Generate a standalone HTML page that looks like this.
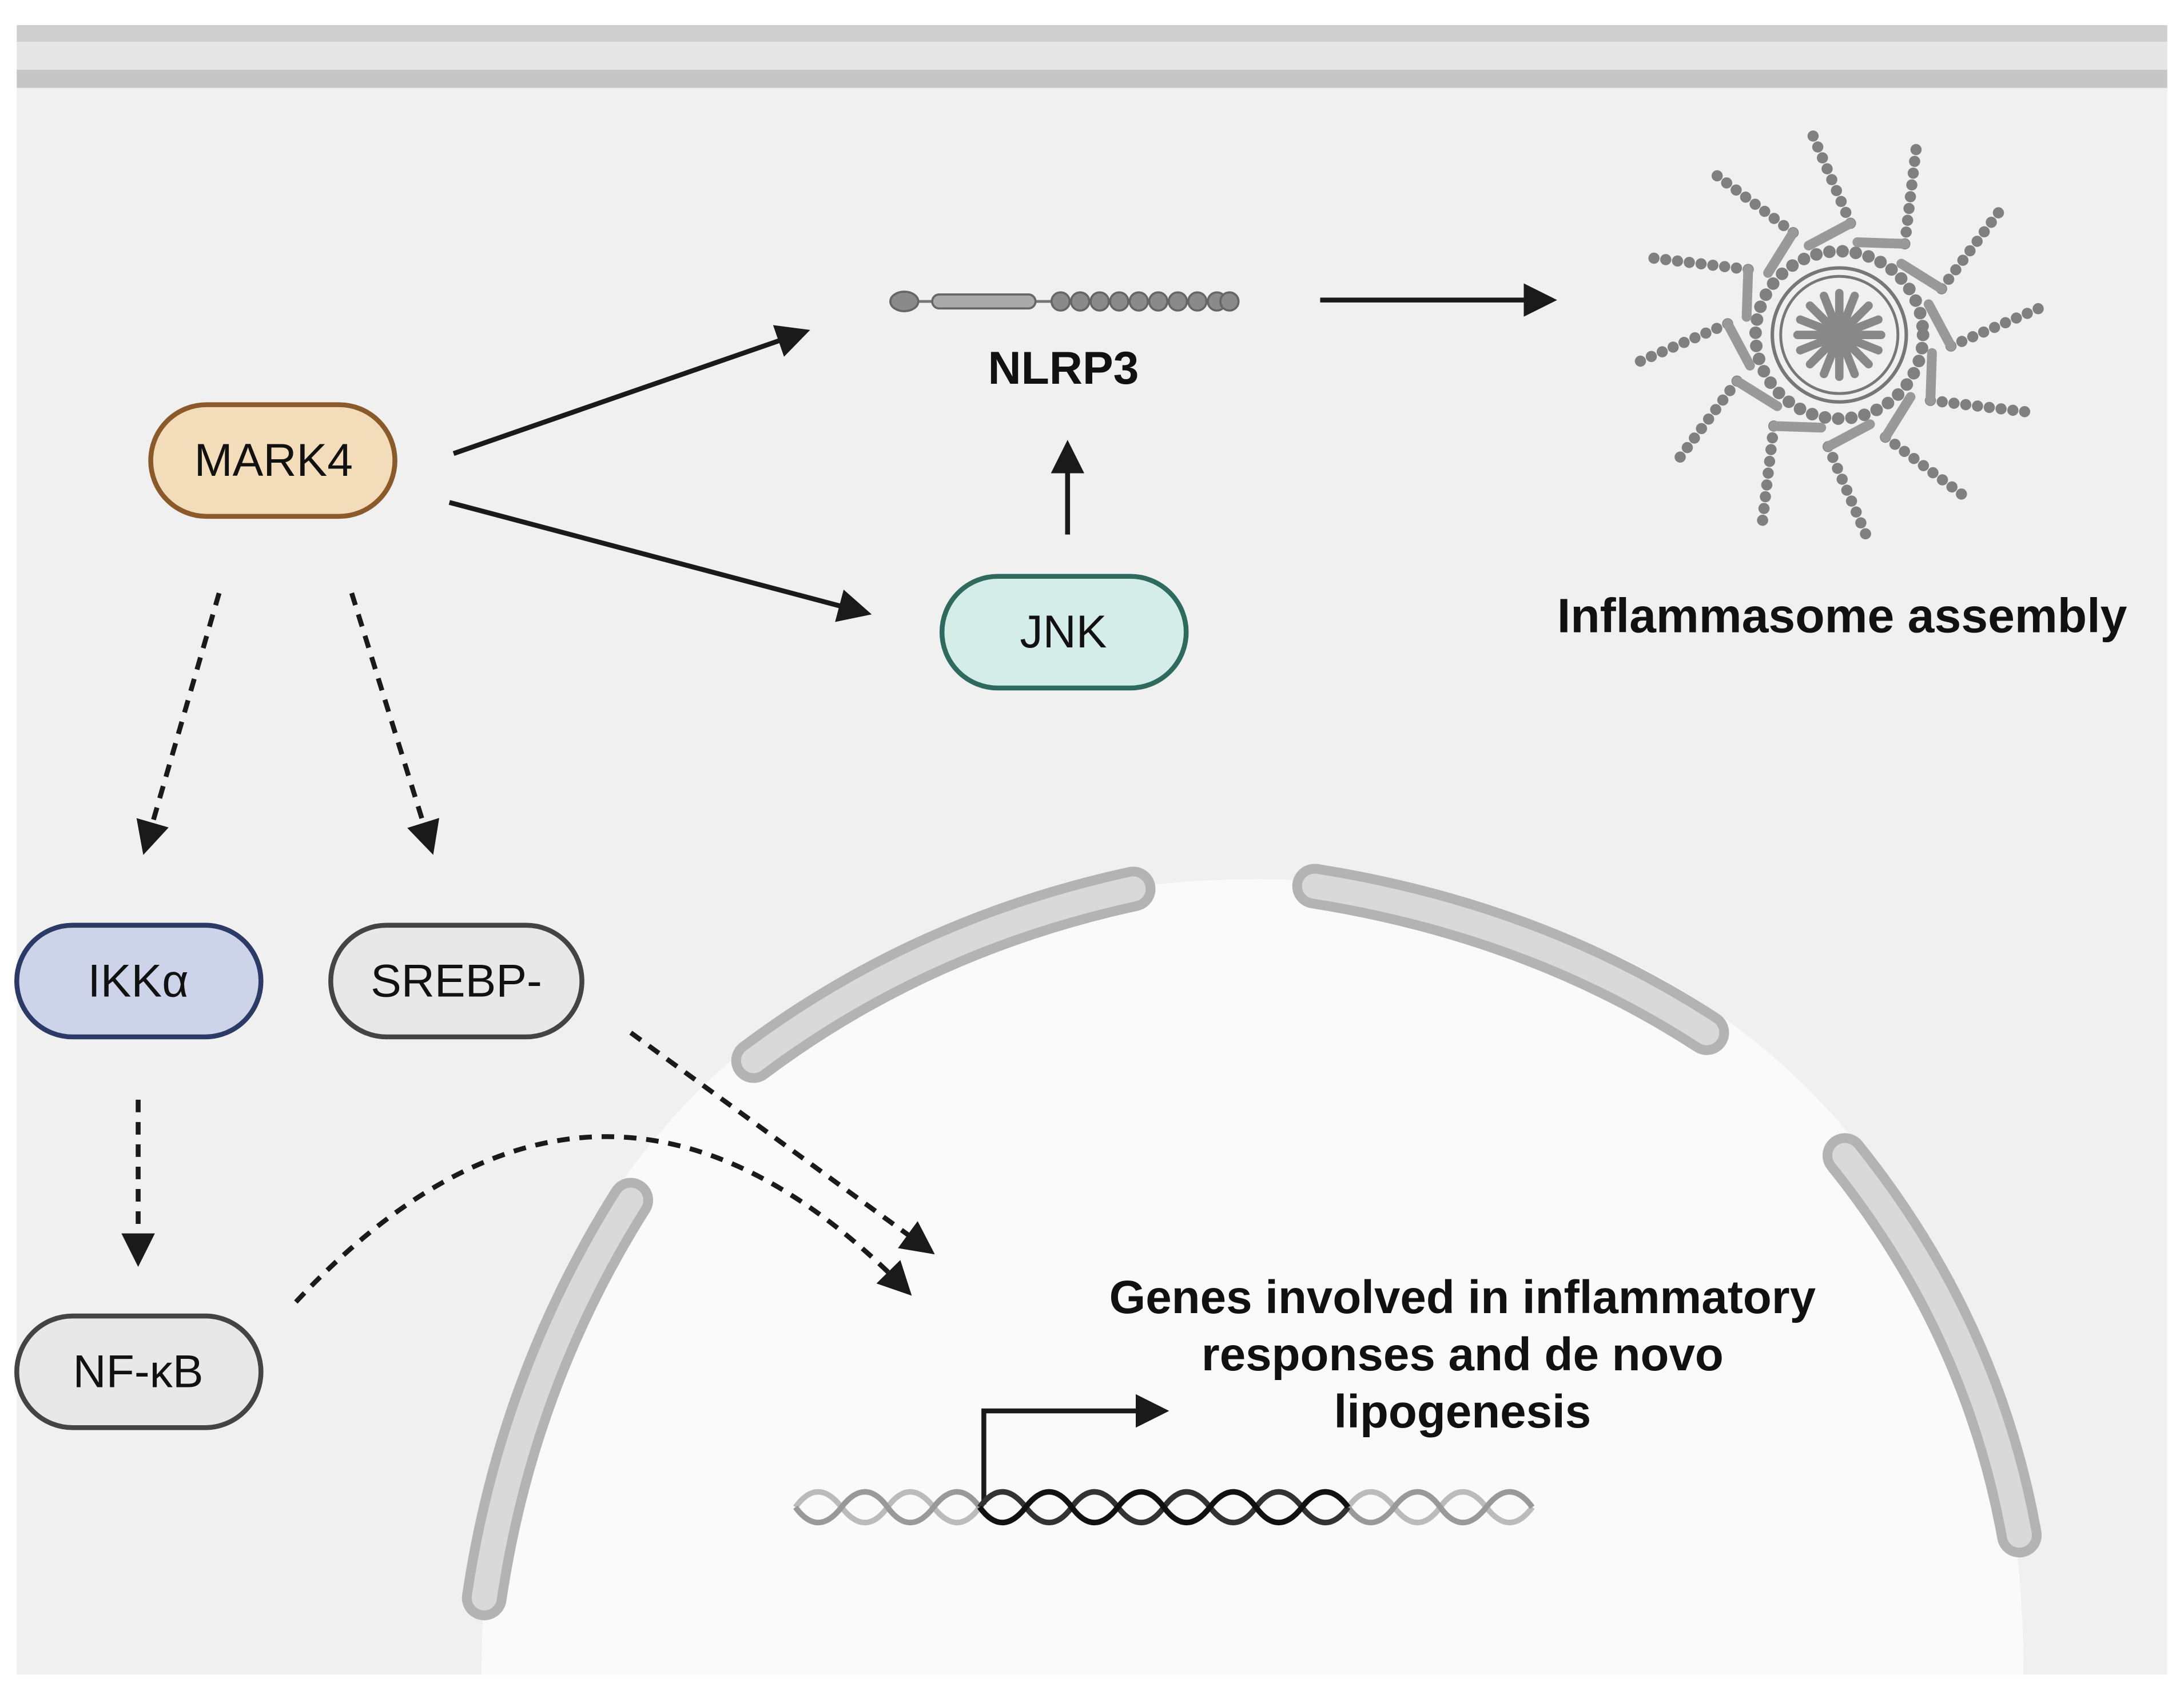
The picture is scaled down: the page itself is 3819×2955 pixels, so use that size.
<!DOCTYPE html>
<html><head><meta charset="utf-8"><style>
html,body{margin:0;padding:0;background:#fff}
svg{display:block}
text{font-family:"Liberation Sans",sans-serif;fill:#111}
</style></head><body>
<svg width="3819" height="2955" viewBox="0 0 1565 1211" preserveAspectRatio="none" xmlns="http://www.w3.org/2000/svg">
<defs>
<marker id="ahb" viewBox="0 0 10 10" refX="8" refY="5" markerWidth="24" markerHeight="24" orient="auto" markerUnits="userSpaceOnUse">
<path d="M0,0 L10,5 L0,10 Z" fill="#1a1a1a"/></marker>
</defs>
<rect x="0" y="0" width="1565" height="1211" fill="#fff"/>
<rect x="12" y="18" width="1541" height="1182" fill="#f0f0f0"/>
<rect x="12" y="18" width="1541" height="12" fill="#cfcfcf"/>
<rect x="12" y="30" width="1541" height="20" fill="#e6e6e6"/>
<rect x="12" y="50" width="1541" height="13" fill="#c6c6c6"/>
<path d="M345,1200 C345,820 600,630 900,630 C1200,630 1450,820 1450,1200 Z" fill="#fafafa"/>
<g fill="none" stroke-linecap="round">
<g stroke="#b3b3b3" stroke-width="32">
<path d="M540,760 Q660,670 812,637"/>
<path d="M942,635 Q1100,660 1223,740"/>
<path d="M1322,828 Q1420,950 1447,1100"/>
<path d="M452,860 Q370,990 347,1145"/>
</g>
<g stroke="#d9d9d9" stroke-width="18">
<path d="M540,760 Q660,670 812,637"/>
<path d="M942,635 Q1100,660 1223,740"/>
<path d="M1322,828 Q1420,950 1447,1100"/>
<path d="M452,860 Q370,990 347,1145"/>
</g>
</g>
<g stroke-width="3.5">
<rect x="108" y="290" width="175" height="80" rx="40" fill="#f3dcb9" stroke="#8b5a2b"/>
<rect x="675" y="413" width="175" height="80" rx="40" fill="#d4ede8" stroke="#2e6b5e"/>
<rect x="12" y="663" width="175" height="80" rx="40" fill="#cdd4ea" stroke="#2c3a66"/>
<rect x="237" y="663" width="180" height="80" rx="40" fill="#e8e8e8" stroke="#444"/>
<rect x="12" y="943" width="175" height="80" rx="40" fill="#e8e8e8" stroke="#444"/>
</g>
<g font-size="33" text-anchor="middle">
<text x="196" y="341">MARK4</text>
<text x="762" y="464">JNK</text>
<text x="99" y="714">IKKα</text>
<text x="327" y="714">SREBP-</text>
<text x="99" y="994">NF-κB</text>
</g>
<g stroke="#1a1a1a" stroke-width="3.5" fill="none" marker-end="url(#ahb)">
<line x1="325" y1="325" x2="576" y2="238"/>
<line x1="322" y1="360" x2="620" y2="439"/>
<line x1="765" y1="383" x2="765" y2="320"/>
<line x1="946" y1="215" x2="1111" y2="215"/>
<path d="M705,1078 V1011 H833"/>
</g>
<g stroke="#1a1a1a" stroke-width="3.5" fill="none" stroke-dasharray="9,7" marker-end="url(#ahb)">
<line x1="157" y1="425" x2="104" y2="608"/>
<line x1="252" y1="425" x2="309" y2="608"/>
<line x1="99" y1="788" x2="99" y2="903"/>
<line x1="452" y1="740" x2="666" y2="896"/>
<path d="M212,933 Q430,700 650,925"/>
</g>
<g fill="#8a8a8a" stroke="#666" stroke-width="1.5">
<line x1="648" y1="216" x2="880" y2="216" stroke="#777" stroke-width="2"/>
<ellipse cx="648" cy="216" rx="10" ry="7"/>
<rect x="668" y="211" width="74" height="10" rx="5" fill="#aaa"/>
<circle cx="760" cy="216" r="6.5"/><circle cx="774" cy="216" r="6.5"/><circle cx="788" cy="216" r="6.5"/><circle cx="802" cy="216" r="6.5"/><circle cx="816" cy="216" r="6.5"/><circle cx="830" cy="216" r="6.5"/><circle cx="844" cy="216" r="6.5"/><circle cx="858" cy="216" r="6.5"/><circle cx="872" cy="216" r="6.5"/><circle cx="881" cy="216" r="6.5"/>
</g>
<text x="762" y="275" font-size="33" font-weight="bold" text-anchor="middle">NLRP3</text>
<g transform="translate(1318,240)">
<g stroke="#808080" stroke-width="8" stroke-linecap="round" stroke-dasharray="0,8.5" fill="none">
<line x1="8" y1="-80" x2="-22" y2="-150" transform="rotate(0)"/>
<line x1="8" y1="-80" x2="-22" y2="-150" transform="rotate(30)"/>
<line x1="8" y1="-80" x2="-22" y2="-150" transform="rotate(60)"/>
<line x1="8" y1="-80" x2="-22" y2="-150" transform="rotate(90)"/>
<line x1="8" y1="-80" x2="-22" y2="-150" transform="rotate(120)"/>
<line x1="8" y1="-80" x2="-22" y2="-150" transform="rotate(150)"/>
<line x1="8" y1="-80" x2="-22" y2="-150" transform="rotate(180)"/>
<line x1="8" y1="-80" x2="-22" y2="-150" transform="rotate(210)"/>
<line x1="8" y1="-80" x2="-22" y2="-150" transform="rotate(240)"/>
<line x1="8" y1="-80" x2="-22" y2="-150" transform="rotate(270)"/>
<line x1="8" y1="-80" x2="-22" y2="-150" transform="rotate(300)"/>
<line x1="8" y1="-80" x2="-22" y2="-150" transform="rotate(330)"/>
<circle r="60" stroke-dasharray="0,9.5" stroke-width="9"/>
</g>
<g stroke="#999" stroke-width="7" stroke-linecap="round" fill="none">
<line x1="-22" y1="-64" x2="8" y2="-80" transform="rotate(0)"/>
<line x1="-22" y1="-64" x2="8" y2="-80" transform="rotate(30)"/>
<line x1="-22" y1="-64" x2="8" y2="-80" transform="rotate(60)"/>
<line x1="-22" y1="-64" x2="8" y2="-80" transform="rotate(90)"/>
<line x1="-22" y1="-64" x2="8" y2="-80" transform="rotate(120)"/>
<line x1="-22" y1="-64" x2="8" y2="-80" transform="rotate(150)"/>
<line x1="-22" y1="-64" x2="8" y2="-80" transform="rotate(180)"/>
<line x1="-22" y1="-64" x2="8" y2="-80" transform="rotate(210)"/>
<line x1="-22" y1="-64" x2="8" y2="-80" transform="rotate(240)"/>
<line x1="-22" y1="-64" x2="8" y2="-80" transform="rotate(270)"/>
<line x1="-22" y1="-64" x2="8" y2="-80" transform="rotate(300)"/>
<line x1="-22" y1="-64" x2="8" y2="-80" transform="rotate(330)"/>
</g>
<circle r="48" fill="none" stroke="#777" stroke-width="2.5"/>
<circle r="42" fill="none" stroke="#777" stroke-width="2"/>
<g stroke="#888" stroke-width="6" stroke-linecap="round">
<line x1="0" y1="-30" x2="0" y2="30"/><line x1="-30" y1="0" x2="30" y2="0"/>
<line x1="-21" y1="-21" x2="21" y2="21"/><line x1="-21" y1="21" x2="21" y2="-21"/>
<line x1="-11" y1="-28" x2="11" y2="28"/><line x1="11" y1="-28" x2="-11" y2="28"/>
<line x1="-28" y1="-11" x2="28" y2="11"/><line x1="-28" y1="11" x2="28" y2="-11"/>
</g>
<circle r="9" fill="#888"/>
</g>
<text x="1320" y="453" font-size="34.5" font-weight="bold" text-anchor="middle">Inflammasome assembly</text>
<g font-size="33.5" font-weight="bold" text-anchor="middle">
<text x="1048" y="941">Genes involved in inflammatory</text>
<text x="1048" y="982">responses and de novo</text>
<text x="1048" y="1023">lipogenesis</text>
</g>
<g fill="none" stroke-width="4">
<path d="M570,1080 q16,-22 33,0 t33,0 t33,0 t33,0" stroke="#bbb"/>
<path d="M570,1080 q16,22 33,0 t33,0 t33,0 t33,0" stroke="#999"/>
<path d="M966,1080 q16,-22 33,0 t33,0 t33,0 t33,0" stroke="#bbb"/>
<path d="M966,1080 q16,22 33,0 t33,0 t33,0 t33,0" stroke="#999"/>
<path d="M702,1080 q16,-22 33,0 t33,0 t33,0 t33,0 t33,0 t33,0 t33,0 t33,0" stroke="#333"/>
<path d="M702,1080 q16,22 33,0 t33,0 t33,0 t33,0 t33,0 t33,0 t33,0 t33,0" stroke="#111"/>
</g>
</svg>
</body></html>
